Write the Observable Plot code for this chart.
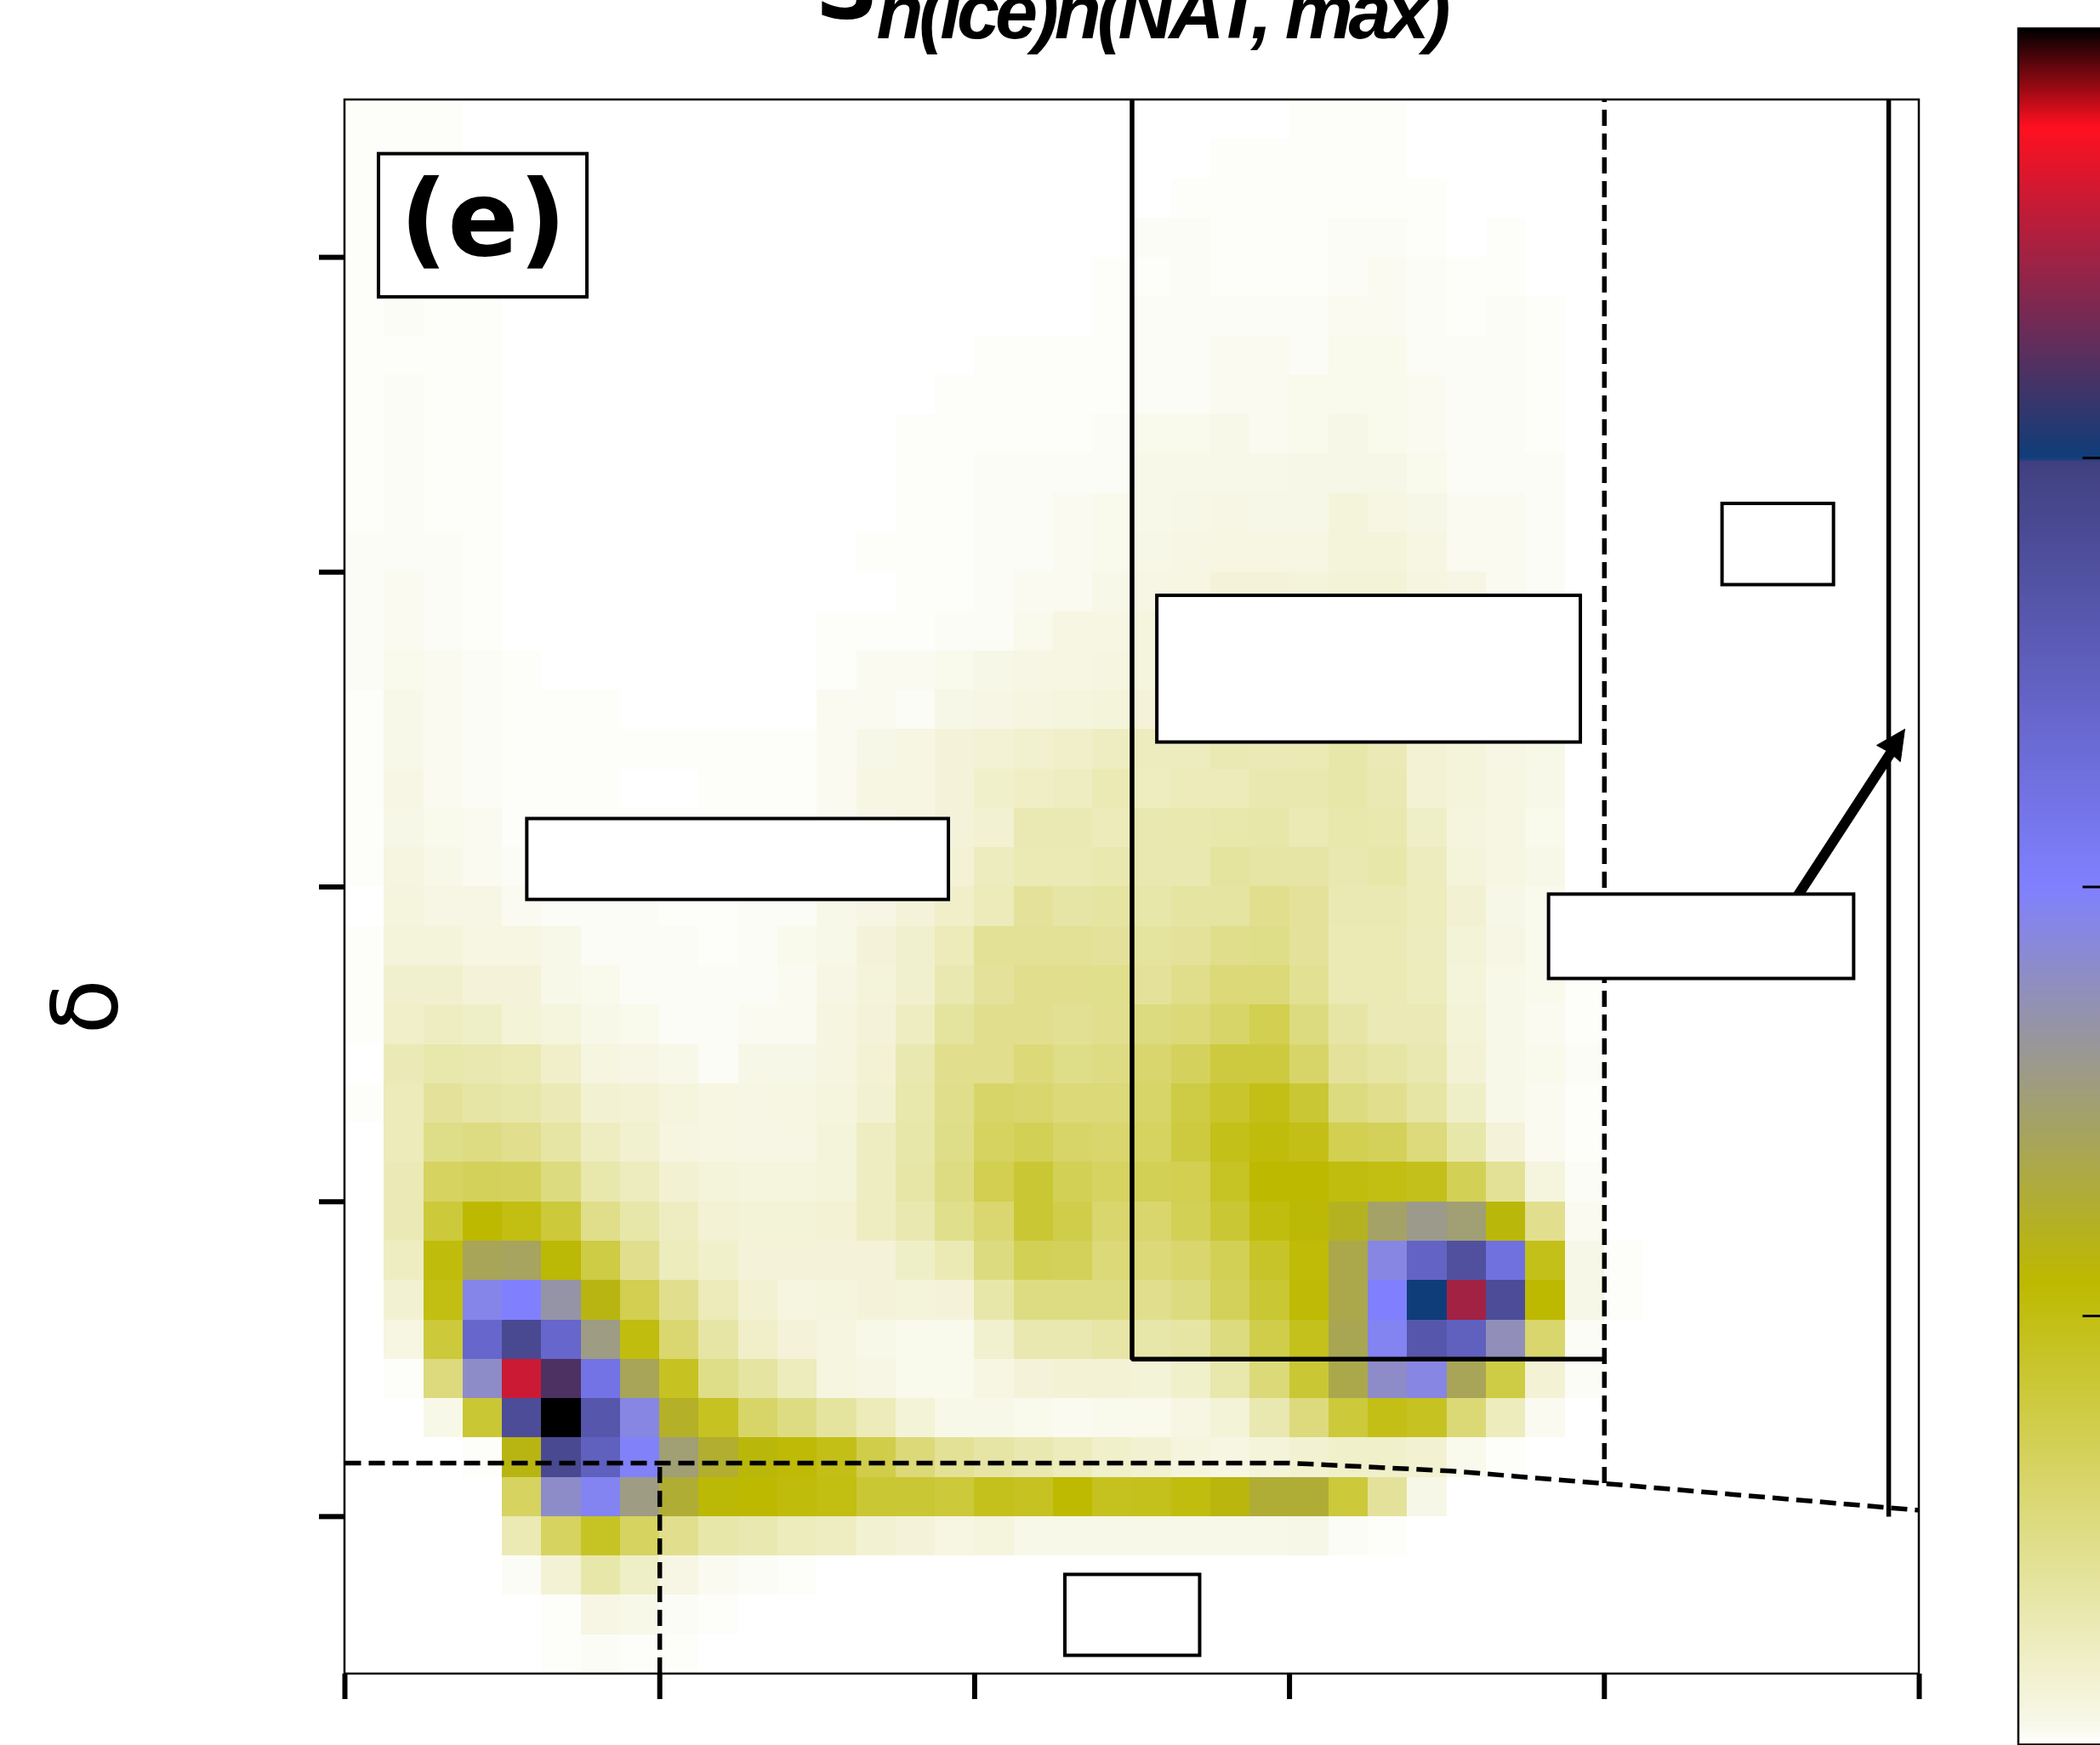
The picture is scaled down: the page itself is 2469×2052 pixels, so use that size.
<!DOCTYPE html>
<html>
<head>
<meta charset="utf-8">
<script src="https://cdn.jsdelivr.net/npm/d3@7"></script>
<script src="https://cdn.jsdelivr.net/npm/@observablehq/plot@0.6"></script>
<style>
html,body{margin:0;padding:0;background:#fff;overflow:hidden}
svg{display:block}
.subscript text{letter-spacing:-5.1px}
</style>
</head>
<body>
<div id="chart"></div>
<script>
// Density per cell (x 100), top row first, trailing zeros omitted. 40 x 40 bins.
const density = [
[1,1,1,0,0,0,0,0,0,0,0,0,0,0,0,0,0,0,0,0,0,0,0,0,1,1,1],
[1,1,1,0,0,0,0,0,0,0,0,0,0,0,0,0,0,0,0,0,0,0,1,1,1,1,1],
[1,1,1,1,0,0,0,0,0,0,0,0,0,0,0,0,0,0,0,0,0,1,1,1,1,1,1,1],
[1,1,1,1,0,0,0,0,0,0,0,0,0,0,0,0,0,0,0,0,2,2,1,1,1,2,2,1,0,1],
[1,1,1,1,0,0,0,0,0,0,0,0,0,0,0,0,0,0,0,1,1,2,1,1,1,2,3,2,1,1],
[1,2,1,1,0,0,0,0,0,0,0,0,0,0,0,0,0,0,0,1,2,2,2,2,2,3,3,2,1,2,1],
[1,1,1,1,0,0,0,0,0,0,0,0,0,0,0,0,1,1,1,1,2,2,3,3,2,4,4,2,2,2,1],
[1,2,1,1,0,0,0,0,0,0,0,0,0,0,0,1,1,1,1,1,2,2,3,3,4,4,4,3,2,2,1],
[1,2,1,1,0,0,0,0,0,0,0,0,0,0,1,1,1,1,1,2,4,4,5,3,4,6,4,3,2,2,1],
[1,2,1,1,0,0,0,0,0,0,0,0,0,0,1,1,2,2,2,2,5,5,5,5,6,6,6,4,2,2,2],
[1,2,1,1,0,0,0,0,0,0,0,0,0,0,1,1,2,2,3,4,5,6,7,6,6,11,8,6,3,3,2],
[2,2,2,1,0,0,0,0,0,0,0,0,0,1,1,1,2,2,3,4,6,7,8,8,8,11,11,8,3,3,2],
[2,3,2,1,0,0,0,0,0,0,0,0,0,0,1,1,2,3,3,5,7,8,12,12,11,13,13,9,7,3,2],
[2,3,2,1,0,0,0,0,0,0,0,0,1,1,1,2,2,4,8,8,10,10,12,12,12,15,15,10,7,3,2],
[2,4,3,2,1,0,0,0,0,0,0,0,1,3,3,4,6,7,8,9,10,12,14,14,14,18,18,11,7,3,2],
[1,5,3,2,1,1,1,0,0,0,0,0,3,3,2,6,7,9,10,11,12,16,18,18,20,24,24,12,8,4,2],
[1,5,3,2,1,1,1,1,1,1,1,1,3,6,8,12,14,16,19,22,24,24,29,27,28,33,27,14,11,7,5],
[1,7,3,2,1,1,1,0,0,1,1,1,3,8,8,12,18,21,22,28,23,26,26,30,31,33,29,14,11,8,5],
[1,6,4,3,1,1,1,1,1,1,1,1,3,6,8,12,15,29,29,26,30,31,32,33,28,32,31,20,10,8,4],
[1,9,5,3,2,1,1,1,1,1,1,1,3,7,10,14,24,28,28,31,30,30,38,36,35,30,33,24,11,8,5],
[0,10,7,7,3,2,2,2,1,1,2,2,5,7,12,19,26,40,35,37,33,37,37,45,40,29,29,25,15,6,4],
[1,11,11,8,8,5,2,2,2,1,2,4,5,12,17,26,42,42,42,40,38,40,47,48,40,28,28,24,13,7,4],
[1,17,17,12,12,5,4,2,2,2,2,3,7,11,17,30,40,45,45,46,40,47,55,55,43,28,28,25,11,5,4,1],
[1,19,22,20,13,10,5,4,2,2,3,3,9,12,22,38,45,45,43,45,52,55,62,72,52,35,27,27,13,5,3,1],
[0,27,32,30,28,19,9,7,5,2,6,6,9,14,30,45,45,55,48,50,60,67,80,80,62,40,36,30,14,5,4,2],
[1,26,40,35,33,27,15,14,10,8,7,8,10,15,32,47,62,60,55,55,62,78,88,98,85,52,45,36,20,5,3,1],
[0,26,48,50,45,36,22,16,9,8,7,7,11,22,33,48,65,70,62,60,65,80,97,103,98,72,68,54,33,12,3,1],
[0,27,65,68,67,52,32,24,15,11,10,10,11,22,34,50,72,85,70,65,70,72,92,108,108,102,100,96,70,42,10,2],
[0,27,82,108,100,82,47,33,22,14,13,13,14,22,30,46,58,85,75,60,60,70,85,102,110,120,145,158,150,112,45,3],
[0,22,103,140,142,110,78,45,25,18,12,12,12,12,20,28,52,70,68,55,55,60,70,90,105,135,190,245,275,225,97,6,1],
[0,15,100,192,200,168,115,72,45,26,15,9,10,12,11,12,33,50,50,50,45,52,68,85,106,135,200,300,347,280,108,6,1],
[0,8,82,240,285,240,155,102,58,35,19,12,9,5,4,4,16,30,30,34,33,36,52,75,95,138,195,265,250,175,60,2],
[0,1,53,180,360,320,220,140,93,48,37,25,9,7,4,4,8,12,14,14,13,18,32,55,85,135,180,190,140,78,14,2],
[0,0,5,85,280,400,265,190,122,93,62,50,38,26,13,5,5,4,3,4,4,8,13,30,53,82,98,93,56,25,3],
[0,0,0,1,115,285,250,198,150,125,112,106,98,75,55,42,35,30,25,18,15,10,8,11,15,18,18,15,4,1],
[0,0,0,0,65,180,195,155,127,110,108,103,100,85,85,82,95,93,107,94,95,102,113,128,128,82,40,6],
[0,0,0,0,28,65,92,65,45,33,30,25,22,15,12,8,10,5,5,5,5,5,5,5,6,2,1],
[0,0,0,0,2,14,33,20,7,3,2,1],
[0,0,0,0,0,1,7,5,2,1],
[0,0,0,0,0,1,2,1,1]
];

const binCount = 40;
const axisSpan = 5;
const binSize = axisSpan / binCount;

// Colour map
const colorStops  = [0, 0.045, 1.08, 2, 2.99, 3, 3.77, 4];
const colorValues = ["#ffffff", "#f8f8ea", "#bdb900", "#8080ff", "#404080", "#0f3d7a", "#ff1020", "#000000"];
const colorbarTicks = [1, 2, 3];

// Axis ticks (labels are blanked in the source picture)
const xTicks = [0, 1, 2, 3, 4, 5];
const yTicks = [0.5, 1.5, 2.5, 3.5, 4.5];

// Curves and limits, in axis units
const dashedCurveX = [0, 3, 3.51, 4, 5];
const dashedCurveY = [0.67, 0.67, 0.645, 0.605, 0.52];
const solidBoxX = [2.5, 2.5, 4];
const solidBoxY = [5, 1, 1];
const solidRightX = [4.903, 4.903];
const solidRightY = [5, 0.5];
const dashedV = [
  {x: 1, y1: 0, y2: 0.67},
  {x: 4, y1: 0.605, y2: 5}
];

// Blanked label boxes
const boxes = [
  {x1: 0.108, x2: 0.770, y1: 4.373, y2: 4.828},
  {x1: 0.579, x2: 1.918, y1: 2.459, y2: 2.716},
  {x1: 2.580, x2: 3.925, y1: 2.959, y2: 3.425},
  {x1: 4.375, x2: 4.729, y1: 3.459, y2: 3.717},
  {x1: 3.824, x2: 4.793, y1: 2.208, y2: 2.476},
  {x1: 2.288, x2: 2.716, y1: 0.058, y2: 0.315}
];

// Arrow
const arrowShaftX = [4.606, 4.916];
const arrowShaftY = [2.46, 2.936];
const arrowHeadX = [4.954, 4.865, 4.905, 4.94];
const arrowHeadY = [3.001, 2.95, 2.928, 2.898];

// Scale windows: the SVG spans the plot area plus margins, in axis units
const xWindow = [-1.094, 5.5754];
const yWindow = [-0.2269, 5.316];
const ticklen = 0.081;

// Colour bar placement, in axis units
const barX = [5.316, 5.5754];
const barBase = -0.2256;
const barUnit = 1.3628;
const barTickX = [5.52, 5.5754];

const cells = density.flatMap((row, r) =>
  d3.range(binCount).map(c => ({
    x1: c * binSize,
    x2: (c + 1) * binSize,
    y1: axisSpan - (r + 1) * binSize,
    y2: axisSpan - r * binSize,
    v: (row[c] ?? 0) / 100
  }))
);

const barCells = d3.range(0, 4, 0.005).map(v => ({
  x1: barX[0], x2: barX[1],
  y1: barBase + v * barUnit,
  y2: barBase + (v + 0.005) * barUnit,
  v: v + 0.0025
}));

const pts = (xs, ys) => xs.map((x, i) => ({x, y: ys[i]}));

const chart = Plot.plot({
  width: 2469,
  height: 2052,
  margin: 0,
  x: {domain: xWindow, axis: null},
  y: {domain: yWindow, axis: null},
  color: {type: "linear", domain: colorStops, range: colorValues},
  style: {background: "#fff", overflow: "hidden"},
  marks: [
    Plot.rect(cells, {x1: "x1", x2: "x2", y1: "y1", y2: "y2", fill: "v", shapeRendering: "crispEdges"}),
    Plot.rect([{x1: 0, x2: axisSpan, y1: 0, y2: axisSpan}], {x1: "x1", x2: "x2", y1: "y1", y2: "y2", fill: "none", stroke: "#000", strokeWidth: 2.5}),
    Plot.ruleX(xTicks, {x: d => d, y1: -ticklen, y2: 0, stroke: "#000", strokeWidth: 6}),
    Plot.ruleY(yTicks, {y: d => d, x1: -ticklen, x2: 0, stroke: "#000", strokeWidth: 6}),
    Plot.line(pts(dashedCurveX, dashedCurveY), {x: "x", y: "y", stroke: "#000", strokeWidth: 5.5, strokeDasharray: "19,9", strokeLinecap: "butt", curve: "linear"}),
    Plot.ruleX(dashedV, {x: "x", y1: "y1", y2: "y2", stroke: "#000", strokeWidth: 5.5, strokeDasharray: "19,9"}),
    Plot.line(pts(solidBoxX, solidBoxY), {x: "x", y: "y", stroke: "#000", strokeWidth: 5.5, strokeLinejoin: "miter", strokeLinecap: "butt"}),
    Plot.line(pts(solidRightX, solidRightY), {x: "x", y: "y", stroke: "#000", strokeWidth: 5.5, strokeLinecap: "butt"}),
    Plot.line(pts(arrowShaftX, arrowShaftY), {x: "x", y: "y", stroke: "#000", strokeWidth: 12, strokeLinecap: "butt"}),
    Plot.line(pts(arrowHeadX.concat(arrowHeadX[0]), arrowHeadY.concat(arrowHeadY[0])), {x: "x", y: "y", fill: "#000", stroke: "#000", strokeWidth: 1}),
    Plot.rect(boxes, {x1: "x1", x2: "x2", y1: "y1", y2: "y2", fill: "#fff", stroke: "#000", strokeWidth: 4}),
    Plot.text(["(e)"], {x: 0.439, y: 4.506, text: d => d, fontFamily: "DejaVu Sans", fontWeight: "bold", fontSize: 123, fill: "#000", textAnchor: "middle", lineAnchor: "bottom"}),
    Plot.text(["δ"], {x: -0.724, y: 2.12, text: d => d, fontFamily: "DejaVu Sans", fontSize: 107, fill: "#000", rotate: -90, textAnchor: "middle", lineAnchor: "bottom"}),
    Plot.text(["S"], {x: 1.493, y: 5.258, text: d => d, fontFamily: "DejaVu Sans", fontWeight: "bold", fontSize: 104, fill: "#000", textAnchor: "start", lineAnchor: "bottom"}),
    Plot.text(["n(ice)n(NAT, max)"], {x: 1.688, y: 5.197, text: d => d, fontFamily: "Liberation Sans", fontWeight: "bold", fontStyle: "italic", fontSize: 90, fill: "#000", textAnchor: "start", lineAnchor: "bottom", className: "subscript"}),
    Plot.rect(barCells, {x1: "x1", x2: "x2", y1: "y1", y2: "y2", fill: "v", shapeRendering: "crispEdges"}),
    Plot.rect([{x1: barX[0], x2: barX[1] + 0.05, y1: barBase, y2: barBase + 4 * barUnit}], {x1: "x1", x2: "x2", y1: "y1", y2: "y2", fill: "none", stroke: "#000", strokeWidth: 2.5}),
    Plot.ruleY(colorbarTicks, {y: d => barBase + d * barUnit, x1: barTickX[0], x2: barTickX[1], stroke: "#000", strokeWidth: 3})
  ]
});
document.getElementById("chart").append(chart);
</script>
</body>
</html>
